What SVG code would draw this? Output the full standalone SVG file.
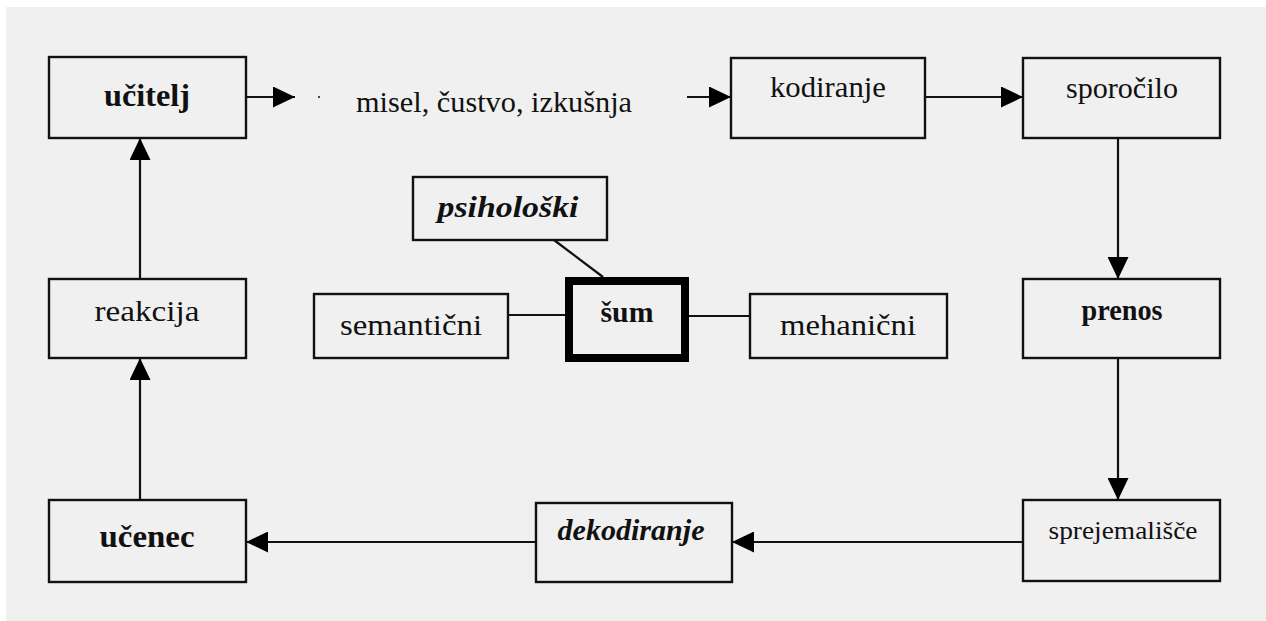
<svg xmlns="http://www.w3.org/2000/svg" width="1266" height="621" viewBox="0 0 1266 621">
  <style>
    .box { fill: none; stroke: #111; stroke-width: 2.4; }
    .thick { fill: none; stroke: #000; stroke-width: 8; }
    .conn { fill: none; stroke: #111; stroke-width: 2.2; }
  </style>
  <defs>
    <marker id="arrow" markerUnits="userSpaceOnUse" markerWidth="22" markerHeight="21" refX="22" refY="10.5" orient="auto">
      <path d="M0,0 L22,10.5 L0,21 Z" fill="#000"/>
    </marker>
  </defs>

  <!-- page background -->
  <rect x="0" y="0" width="1266" height="621" fill="#ffffff"/>
  <rect x="6" y="7" width="1260" height="614" fill="#f0f0f0"/>

  <!-- connectors -->
  <g id="connectors">
    <path class="conn" d="M246,97 H295" marker-end="url(#arrow)"/>
    <circle cx="319" cy="97" r="1.1" fill="#222"/>
    <path class="conn" d="M687,97 H731" marker-end="url(#arrow)"/>
    <path class="conn" d="M925,97 H1023" marker-end="url(#arrow)"/>
    <path class="conn" d="M1118,138 V279" marker-end="url(#arrow)"/>
    <path class="conn" d="M1118,358 V500" marker-end="url(#arrow)"/>
    <path class="conn" d="M1023,542 H732" marker-end="url(#arrow)"/>
    <path class="conn" d="M536,542 H246" marker-end="url(#arrow)"/>
    <path class="conn" d="M140,500 V358" marker-end="url(#arrow)"/>
    <path class="conn" d="M140,279 V138" marker-end="url(#arrow)"/>
    <path class="conn" d="M554,240 L603,277"/>
    <path class="conn" d="M508,315 H565"/>
    <path class="conn" d="M689,316 H750"/>
  </g>

  <g font-family="Liberation Serif" font-size="30" fill="#111" text-anchor="middle">
    <g id="ucitelj">
      <rect class="box" x="49" y="57" width="197" height="81"/>
      <text x="147" y="106" font-weight="bold" font-size="32" textLength="86" lengthAdjust="spacingAndGlyphs">učitelj</text>
    </g>

    <g id="misel">
      <text x="494" y="112" textLength="276" lengthAdjust="spacingAndGlyphs">misel, čustvo, izkušnja</text>
    </g>

    <g id="kodiranje">
      <rect class="box" x="731" y="58" width="194" height="80"/>
      <text x="828" y="97" textLength="116" lengthAdjust="spacingAndGlyphs">kodiranje</text>
    </g>

    <g id="sporocilo">
      <rect class="box" x="1023" y="58" width="197" height="80"/>
      <text x="1122" y="98" textLength="112" lengthAdjust="spacingAndGlyphs">sporočilo</text>
    </g>

    <g id="prenos">
      <rect class="box" x="1023" y="279" width="197" height="79"/>
      <text x="1122" y="320" font-weight="bold" textLength="81" lengthAdjust="spacingAndGlyphs">prenos</text>
    </g>

    <g id="sprejemalisce">
      <rect class="box" x="1023" y="500" width="197" height="81"/>
      <text x="1123" y="539" font-size="26" textLength="149" lengthAdjust="spacingAndGlyphs">sprejemališče</text>
    </g>

    <g id="dekodiranje">
      <rect class="box" x="536" y="503" width="196" height="79"/>
      <text x="631" y="540" font-weight="bold" font-style="italic" textLength="147" lengthAdjust="spacingAndGlyphs">dekodiranje</text>
    </g>

    <g id="ucenec">
      <rect class="box" x="49" y="500" width="197" height="82"/>
      <text x="147" y="547" font-weight="bold" font-size="32" textLength="95" lengthAdjust="spacingAndGlyphs">učenec</text>
    </g>

    <g id="reakcija">
      <rect class="box" x="49" y="279" width="197" height="79"/>
      <text x="147" y="321" textLength="105" lengthAdjust="spacingAndGlyphs">reakcija</text>
    </g>

    <g id="psiholoski">
      <rect class="box" x="413" y="177" width="194" height="63"/>
      <text x="508" y="217" font-weight="bold" font-style="italic" textLength="141" lengthAdjust="spacingAndGlyphs">psihološki</text>
    </g>

    <g id="sum">
      <rect class="thick" x="569" y="281" width="116" height="77"/>
      <text x="627" y="322" font-weight="bold" textLength="53" lengthAdjust="spacingAndGlyphs">šum</text>
    </g>

    <g id="semanticni">
      <rect class="box" x="314" y="294" width="194" height="64"/>
      <text x="411" y="335" textLength="142" lengthAdjust="spacingAndGlyphs">semantični</text>
    </g>

    <g id="mehanicni">
      <rect class="box" x="750" y="294" width="197" height="64"/>
      <text x="848" y="335" textLength="136" lengthAdjust="spacingAndGlyphs">mehanični</text>
    </g>
  </g>
</svg>
